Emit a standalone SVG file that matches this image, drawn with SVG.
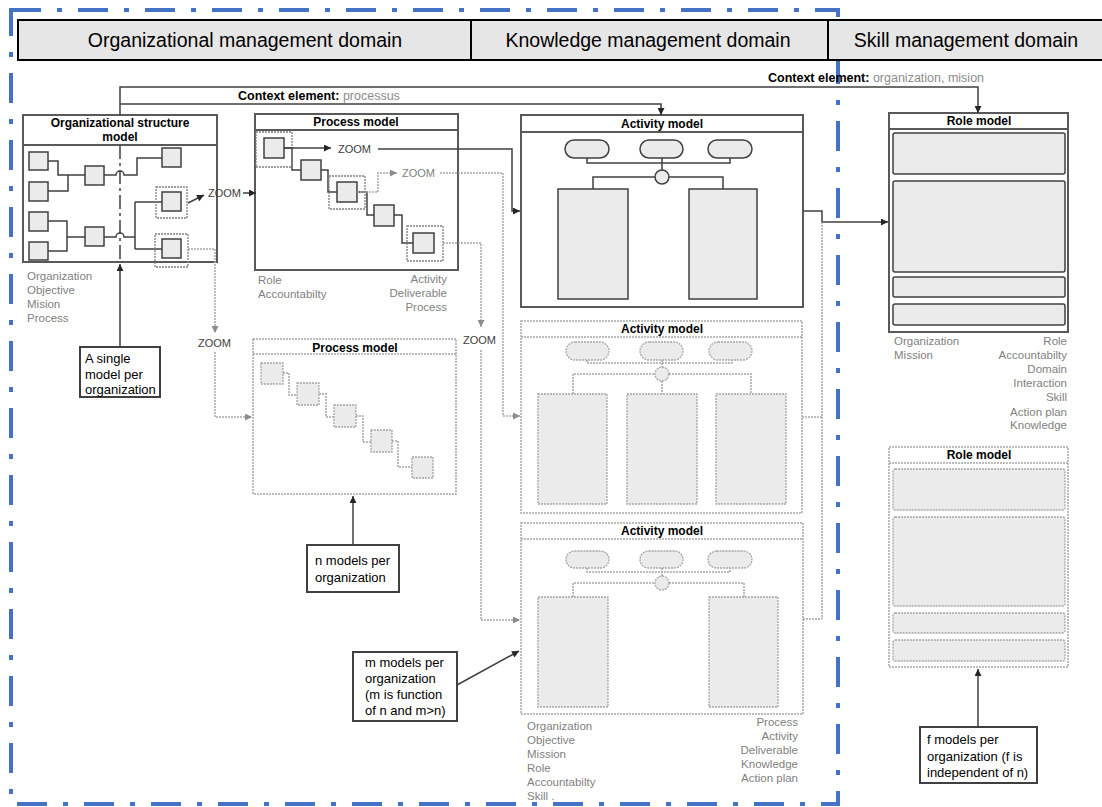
<svg xmlns="http://www.w3.org/2000/svg" width="1102" height="807" viewBox="0 0 1102 807">
<style>
text{font-family:"Liberation Sans",Arial,sans-serif}
.box{fill:#fff;stroke:#595959;stroke-width:2}
.dbox{fill:#fff;stroke:#a6a6a6;stroke-width:1.5;stroke-dasharray:2 1}
.sq{fill:#ebebeb;stroke:#404040;stroke-width:1.5}
.dsq{fill:#ebebeb;stroke:#a6a6a6;stroke-width:1.3;stroke-dasharray:2 1}
.surr{fill:none;stroke:#7f7f7f;stroke-width:1.3;stroke-dasharray:2 1}
.ln{fill:none;stroke:#404040;stroke-width:1.5}
.dln{fill:none;stroke:#a6a6a6;stroke-width:1.5;stroke-dasharray:2 1}
.title{font-weight:bold;font-size:12px;fill:#000;text-anchor:middle}
.lbl{font-size:11.5px;fill:#7f7f7f}
.r{text-anchor:end}
.note{font-size:13px;fill:#000}
.nbox{fill:#fff;stroke:#404040;stroke-width:2}
.zoom{font-size:11px;fill:#404040}
.zoomg{font-size:11px;fill:#7f7f7f}
.hdr{font-size:19.5px;fill:#000;text-anchor:middle}
.ctx{font-size:12.5px;fill:#000}
</style>
<defs>
<marker id="ah" viewBox="0 0 10 10" refX="10" refY="5" markerWidth="8" markerHeight="7" orient="auto" markerUnits="userSpaceOnUse"><path d="M0,0 L10,5 L0,10 z" fill="#262626"/></marker>
<marker id="ahg" viewBox="0 0 10 10" refX="10" refY="5" markerWidth="8" markerHeight="7" orient="auto" markerUnits="userSpaceOnUse"><path d="M0,0 L10,5 L0,10 z" fill="#8c8c8c"/></marker>
</defs>

<rect id="domain-border" x="11" y="10" width="827" height="794" fill="none" stroke="#4472C4" stroke-width="4" stroke-dasharray="30 16 5 16"/>

<g id="header">
<rect x="18" y="20" width="1100" height="40" fill="#e7e6e6" stroke="#000" stroke-width="2"/>
<line x1="471" y1="20" x2="471" y2="60" stroke="#000" stroke-width="2"/>
<line x1="828" y1="20" x2="828" y2="60" stroke="#000" stroke-width="2"/>
<text class="hdr" x="245" y="47">Organizational management domain</text>
<text class="hdr" x="648" y="47">Knowledge management domain</text>
<text class="hdr" x="966" y="47">Skill management domain</text>
</g>

<g id="context-labels">
<text class="ctx" x="768" y="82"><tspan font-weight="bold">Context element:</tspan><tspan fill="#8c8c8c"> organization, mision</tspan></text>
<text class="ctx" x="238" y="100"><tspan font-weight="bold">Context element:</tspan><tspan fill="#8c8c8c"> processus</tspan></text>
</g>

<g id="org-structure-model">
<rect class="box" x="23" y="115" width="194" height="147"/>
<line x1="23" y1="145" x2="217" y2="145" stroke="#595959" stroke-width="2"/>
<text class="title" x="120" y="127">Organizational structure</text>
<text class="title" x="120" y="141">model</text>
<line x1="120" y1="145" x2="120" y2="262" stroke="#404040" stroke-width="1.5" stroke-dasharray="14 4 3 4"/>
<path class="ln" d="M48,161 H58 V175 H85 M48,191 H68 V175 M104,175 H116 A4,4 0 0 1 124,175 H137 V158 H162 M48,221 H67 V237 H85 M48,251 H67 V237 M104,237 H116 A4,4 0 0 1 124,237 H135 M135,202 V249 M135,202 H162 M135,249 H162"/>
<rect class="sq" x="29" y="152" width="19" height="18"/>
<rect class="sq" x="29" y="182" width="19" height="19"/>
<rect class="sq" x="29" y="212" width="19" height="19"/>
<rect class="sq" x="29" y="242" width="19" height="18"/>
<rect class="sq" x="85" y="166" width="19" height="19"/>
<rect class="sq" x="85" y="227" width="19" height="19"/>
<rect class="sq" x="162" y="148" width="19" height="19"/>
<rect class="surr" x="156" y="187" width="31" height="31"/>
<rect class="sq" x="162" y="192" width="19" height="19"/>
<rect class="surr" x="155" y="234" width="33" height="33"/>
<rect class="sq" x="162" y="239" width="19" height="19"/>
<text class="lbl" x="27" y="280">Organization</text>
<text class="lbl" x="27" y="294">Objective</text>
<text class="lbl" x="27" y="308">Mision</text>
<text class="lbl" x="27" y="322">Process</text>
</g>

<g id="process-model-1">
<rect class="box" x="255" y="114" width="203" height="156"/>
<line x1="255" y1="130" x2="458" y2="130" stroke="#595959" stroke-width="2"/>
<text class="title" x="356" y="126">Process model</text>
<path class="ln" d="M284,148 H292 V170 H301 M321,170 H328 V192 H337 M357,192 H367 V215 H374 M394,215 H402 V243 H413"/>
<rect class="surr" x="256" y="132" width="36" height="35"/>
<rect class="sq" x="264" y="138" width="20" height="20"/>
<rect class="sq" x="301" y="160" width="20" height="20"/>
<rect class="surr" x="329" y="176" width="36" height="33"/>
<rect class="sq" x="337" y="182" width="20" height="20"/>
<rect class="sq" x="374" y="205" width="20" height="21"/>
<rect class="surr" x="407" y="226" width="36" height="35"/>
<rect class="sq" x="413" y="233" width="21" height="20"/>
<text class="lbl" x="258" y="284">Role</text>
<text class="lbl" x="258" y="298">Accountabilty</text>
<text class="lbl r" x="447" y="283">Activity</text>
<text class="lbl r" x="447" y="297">Deliverable</text>
<text class="lbl r" x="447" y="311">Process</text>
</g>

<g id="process-model-2">
<rect class="dbox" x="253" y="339" width="203" height="155"/>
<line x1="253" y1="354" x2="456" y2="354" stroke="#a6a6a6" stroke-width="1.5" stroke-dasharray="2 1"/>
<text class="title" x="355" y="352">Process model</text>
<path class="dln" d="M283,373 H289 V395 H297 M319,394 H326 V417 H334 M356,416 H363 V442 H371 M392,441 H398 V467 H412"/>
<rect class="dsq" x="261" y="363" width="22" height="21"/>
<rect class="dsq" x="297" y="383" width="22" height="22"/>
<rect class="dsq" x="334" y="405" width="22" height="22"/>
<rect class="dsq" x="371" y="430" width="21" height="22"/>
<rect class="dsq" x="412" y="457" width="21" height="21"/>
</g>

<g id="activity-model-1">
<rect class="box" x="521" y="115" width="282" height="192"/>
<line x1="521" y1="132" x2="803" y2="132" stroke="#595959" stroke-width="2"/>
<text class="title" x="662" y="128">Activity model</text>
<path class="ln" d="M587,158 V163 H730 V158 M662,158 V170 M593,189 V177 H655 M669,177 H723 V189"/>
<rect class="sq" x="565" y="140" width="44" height="18" rx="9"/>
<rect class="sq" x="640" y="140" width="43" height="18" rx="9"/>
<rect class="sq" x="708" y="140" width="44" height="18" rx="9"/>
<circle class="sq" cx="662" cy="177" r="7"/>
<rect class="sq" x="558" y="189" width="70" height="110"/>
<rect class="sq" x="689" y="189" width="68" height="110"/>
</g>

<g id="activity-model-2">
<rect class="dbox" x="521" y="321" width="281" height="192"/>
<line x1="521" y1="337" x2="802" y2="337" stroke="#a6a6a6" stroke-width="1.5" stroke-dasharray="2 1"/>
<text class="title" x="662" y="333">Activity model</text>
<path class="dln" d="M587,360 V363 H732 V360 M662,360 V367 M573,394 V374 H655 M669,374 H751 V394 M662,381 V394"/>
<rect class="dsq" x="566" y="342" width="43" height="18" rx="9"/>
<rect class="dsq" x="640" y="342" width="43" height="18" rx="9"/>
<rect class="dsq" x="709" y="342" width="43" height="18" rx="9"/>
<circle class="dsq" cx="662" cy="374" r="7"/>
<rect class="dsq" x="538" y="394" width="69" height="110"/>
<rect class="dsq" x="627" y="394" width="70" height="110"/>
<rect class="dsq" x="716" y="394" width="70" height="110"/>
</g>

<g id="activity-model-3">
<rect class="dbox" x="521" y="523" width="282" height="191"/>
<line x1="521" y1="539" x2="803" y2="539" stroke="#a6a6a6" stroke-width="1.5" stroke-dasharray="2 1"/>
<text class="title" x="662" y="535">Activity model</text>
<path class="dln" d="M587,568 V572 H730 V568 M662,568 V576 M573,597 V583 H655 M669,583 H744 V597"/>
<rect class="dsq" x="566" y="551" width="43" height="17" rx="8.5"/>
<rect class="dsq" x="640" y="551" width="43" height="17" rx="8.5"/>
<rect class="dsq" x="708" y="551" width="44" height="17" rx="8.5"/>
<circle class="dsq" cx="662" cy="583" r="7"/>
<rect class="dsq" x="538" y="597" width="70" height="110"/>
<rect class="dsq" x="709" y="597" width="69" height="110"/>
<text class="lbl" x="527" y="730">Organization</text>
<text class="lbl" x="527" y="744">Objective</text>
<text class="lbl" x="527" y="758">Mission</text>
<text class="lbl" x="527" y="772">Role</text>
<text class="lbl" x="527" y="786">Accountabilty</text>
<text class="lbl" x="527" y="800">Skill .</text>
<text class="lbl r" x="798" y="726">Process</text>
<text class="lbl r" x="798" y="740">Activity</text>
<text class="lbl r" x="798" y="754">Deliverable</text>
<text class="lbl r" x="798" y="768">Knowledge</text>
<text class="lbl r" x="798" y="782">Action plan</text>
</g>

<g id="role-model-1">
<rect class="box" x="889" y="113" width="179" height="219"/>
<line x1="889" y1="129" x2="1068" y2="129" stroke="#595959" stroke-width="2"/>
<text class="title" x="979" y="125">Role model</text>
<rect class="sq" x="893" y="133" width="172" height="41" rx="2"/>
<rect class="sq" x="893" y="181" width="172" height="91" rx="2"/>
<rect class="sq" x="893" y="277" width="172" height="20" rx="2"/>
<rect class="sq" x="893" y="304" width="172" height="21" rx="2"/>
<text class="lbl" x="894" y="345">Organization</text>
<text class="lbl" x="894" y="359">Mission</text>
<text class="lbl r" x="1067" y="345">Role</text>
<text class="lbl r" x="1067" y="359">Accountabilty</text>
<text class="lbl r" x="1067" y="373">Domain</text>
<text class="lbl r" x="1067" y="387">Interaction</text>
<text class="lbl r" x="1067" y="401">Skill</text>
<text class="lbl r" x="1067" y="416">Action plan</text>
<text class="lbl r" x="1067" y="429">Knowledge</text>
</g>

<g id="role-model-2">
<rect class="dbox" x="889" y="447" width="179" height="220"/>
<line x1="889" y1="463" x2="1068" y2="463" stroke="#a6a6a6" stroke-width="1.5" stroke-dasharray="2 1"/>
<text class="title" x="979" y="459">Role model</text>
<rect class="dsq" x="893" y="469" width="172" height="41" rx="2"/>
<rect class="dsq" x="893" y="517" width="172" height="89" rx="2"/>
<rect class="dsq" x="893" y="613" width="172" height="20" rx="2"/>
<rect class="dsq" x="893" y="640" width="172" height="21" rx="2"/>
</g>

<g id="note-single">
<rect class="nbox" x="80" y="347" width="80" height="50"/>
<text class="note" x="85" y="363">A single</text>
<text class="note" x="85" y="379">model per</text>
<text class="note" x="85" y="394">organization</text>
</g>
<g id="note-n">
<rect class="nbox" x="307" y="545" width="92" height="47"/>
<text class="note" x="315" y="565">n models per</text>
<text class="note" x="315" y="582">organization</text>
</g>
<g id="note-m">
<rect class="nbox" x="353" y="652" width="104" height="69"/>
<text class="note" x="365" y="667">m models per</text>
<text class="note" x="365" y="683">organization</text>
<text class="note" x="365" y="699">(m is function</text>
<text class="note" x="365" y="715">of n and m&gt;n)</text>
</g>
<g id="note-f">
<rect class="nbox" x="920" y="727" width="117" height="56"/>
<text class="note" x="927" y="744">f models per</text>
<text class="note" x="927" y="761">organization (f is</text>
<text class="note" x="927" y="777">independent of n)</text>
</g>

<g id="connectors">
<path class="ln" d="M120,115 V87 H978 V113" marker-end="url(#ah)"/>
<path class="ln" d="M120,104 H661 V115" marker-end="url(#ah)"/>
<path class="ln" d="M188,203 L204,195" marker-end="url(#ah)"/>
<text class="zoom" x="208" y="197">ZOOM</text>
<path class="ln" d="M243,193 H256" marker-end="url(#ah)"/>
<path class="dln" d="M188,249 H215 V333" marker-end="url(#ahg)"/>
<text class="zoom" x="198" y="347">ZOOM</text>
<path class="dln" d="M215,352 V417 H252" marker-end="url(#ahg)"/>
<path class="ln" d="M284,148 H331" marker-end="url(#ah)"/>
<text class="zoom" x="338" y="153">ZOOM</text>
<path class="ln" d="M378,149 H512 V211 H520" marker-end="url(#ah)"/>
<path class="dln" d="M357,192 H378 V173 H397" marker-end="url(#ahg)"/>
<text class="zoomg" x="402" y="177">ZOOM</text>
<path class="dln" d="M440,173 H503 V416 H520" marker-end="url(#ahg)"/>
<path class="dln" d="M443,243 H481 V327" marker-end="url(#ahg)"/>
<text class="zoom" x="463" y="344">ZOOM</text>
<path class="dln" d="M481,350 V620 H520" marker-end="url(#ahg)"/>
<path class="ln" d="M803,211 H822 V222 H888" marker-end="url(#ah)"/>
<path class="dln" d="M822,222 V619 M802,417 H822 M803,619 H822"/>
<path class="ln" d="M120,347 V264" marker-end="url(#ah)"/>
<path class="ln" d="M353,545 V496" marker-end="url(#ah)"/>
<path class="ln" d="M457,685 L519,651" marker-end="url(#ah)"/>
<path class="ln" d="M978,727 V669" marker-end="url(#ah)"/>
</g>
</svg>
